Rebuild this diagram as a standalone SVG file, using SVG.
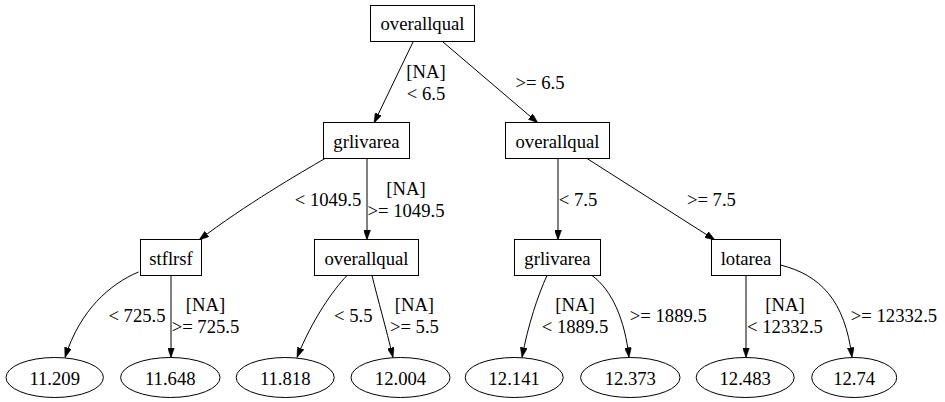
<svg xmlns="http://www.w3.org/2000/svg" width="945" height="402" viewBox="0 0 945 402">
<style>
  text { font-family: Times, "Times New Roman", "Liberation Serif", Tinos, "Noto Serif", "DejaVu Serif", serif; font-size: 18.67px; fill: #000; text-anchor: middle; }
  .node rect, .node ellipse { fill: #fff; stroke: #000; stroke-width: 1; }
  .edge path { fill: none; stroke: #000; stroke-width: 1; marker-end: url(#arrow); }
</style>
<defs>
  <marker id="arrow" markerUnits="userSpaceOnUse" markerWidth="10" markerHeight="7" refX="10" refY="3.5" orient="auto" viewBox="0 0 10 7">
    <path d="M0,0 L10,3.5 L0,7 z" fill="#000" stroke="#000" stroke-width="0.5"/>
  </marker>
</defs>
<rect width="945" height="402" fill="#fff"/>

<g id="edges">
  <g class="edge" id="e_root_grl"><path d="M413,42 L374,123"/></g>
  <g class="edge" id="e_root_oq2"><path d="M443,42 L538,123"/></g>
  <g class="edge" id="e_grl_stf"><path d="M325,158.5 C300,173 245,205 199,240"/></g>
  <g class="edge" id="e_grl_oq3"><path d="M367,158.5 L367,240"/></g>
  <g class="edge" id="e_oq2_grl3"><path d="M558,158.5 L558,240"/></g>
  <g class="edge" id="e_oq2_lot"><path d="M587,158.5 L715,240"/></g>
  <g class="edge" id="e_stf_a"><path d="M138.5,272 C110,284 80,310 65,357.5"/></g>
  <g class="edge" id="e_stf_b"><path d="M171,275.5 L171,357.5"/></g>
  <g class="edge" id="e_oq3_a"><path d="M347,275.5 C333,290 312,320 297,357.5"/></g>
  <g class="edge" id="e_oq3_b"><path d="M372,275.5 C378,300 386,328 393,357.5"/></g>
  <g class="edge" id="e_grl3_a"><path d="M547,275.5 C538,295 528,325 522,357.5"/></g>
  <g class="edge" id="e_grl3_b"><path d="M592,275.5 C612,290 625,320 629,357.5"/></g>
  <g class="edge" id="e_lot_a"><path d="M746,275.5 L746,357.5"/></g>
  <g class="edge" id="e_lot_b"><path d="M780.5,265 C820,275 845,300 852,357.5"/></g>

  <g id="edge_labels">
    <text x="426" y="77.5">[NA]</text>
    <text x="426" y="99.9">&lt; 6.5</text>
    <text x="540" y="88.5">&gt;= 6.5</text>
    <text x="328" y="205.5">&lt; 1049.5</text>
    <text x="406" y="194.5">[NA]</text>
    <text x="406" y="216.9">&gt;= 1049.5</text>
    <text x="578" y="205.5">&lt; 7.5</text>
    <text x="711.4" y="205.5">&gt;= 7.5</text>
    <text x="137" y="322">&lt; 725.5</text>
    <text x="205.5" y="311">[NA]</text>
    <text x="205.5" y="333.4">&gt;= 725.5</text>
    <text x="353.3" y="322">&lt; 5.5</text>
    <text x="414.4" y="311">[NA]</text>
    <text x="414.4" y="333.4">&gt;= 5.5</text>
    <text x="575" y="311">[NA]</text>
    <text x="575" y="333.4">&lt; 1889.5</text>
    <text x="668.3" y="322">&gt;= 1889.5</text>
    <text x="785" y="311">[NA]</text>
    <text x="785" y="333.4">&lt; 12332.5</text>
    <text x="894" y="322">&gt;= 12332.5</text>
  </g>
</g>

<g id="n_root" class="node"><rect x="370.5" y="5.5" width="104" height="36"/><text x="422.5" y="30">overallqual</text></g>
<g id="n_grl2" class="node"><rect x="323.5" y="122.5" width="86" height="36"/><text x="366.5" y="147.5">grlivarea</text></g>
<g id="n_oq2" class="node"><rect x="505.5" y="122.5" width="104" height="36"/><text x="557.5" y="147.5">overallqual</text></g>
<g id="n_stf" class="node"><rect x="140.5" y="239.5" width="61" height="36"/><text x="171" y="264.5">stflrsf</text></g>
<g id="n_oq3" class="node"><rect x="314.5" y="239.5" width="104" height="36"/><text x="366.5" y="264.5">overallqual</text></g>
<g id="n_grl3" class="node"><rect x="514.5" y="239.5" width="86" height="36"/><text x="557.5" y="264.5">grlivarea</text></g>
<g id="n_lot" class="node"><rect x="711.5" y="239.5" width="69" height="36"/><text x="746" y="264.5">lotarea</text></g>

<g id="n_l1" class="node"><ellipse cx="54.7" cy="377.5" rx="48.7" ry="20"/><text x="54.7" y="384.5">11.209</text></g>
<g id="n_l2" class="node"><ellipse cx="170.3" cy="377.5" rx="49.7" ry="20"/><text x="170.3" y="384.5">11.648</text></g>
<g id="n_l3" class="node"><ellipse cx="285.2" cy="377.5" rx="49" ry="20"/><text x="285.2" y="384.5">11.818</text></g>
<g id="n_l4" class="node"><ellipse cx="400.5" cy="377.5" rx="49.5" ry="20"/><text x="400.5" y="384.5">12.004</text></g>
<g id="n_l5" class="node"><ellipse cx="514.2" cy="377.5" rx="49" ry="20"/><text x="514.2" y="384.5">12.141</text></g>
<g id="n_l6" class="node"><ellipse cx="630.3" cy="377.5" rx="49.7" ry="20"/><text x="630.3" y="384.5">12.373</text></g>
<g id="n_l7" class="node"><ellipse cx="745.2" cy="377.5" rx="49" ry="20"/><text x="745.2" y="384.5">12.483</text></g>
<g id="n_l8" class="node"><ellipse cx="854.2" cy="377.5" rx="42.5" ry="20"/><text x="854.2" y="384.5">12.74</text></g>
</svg>
